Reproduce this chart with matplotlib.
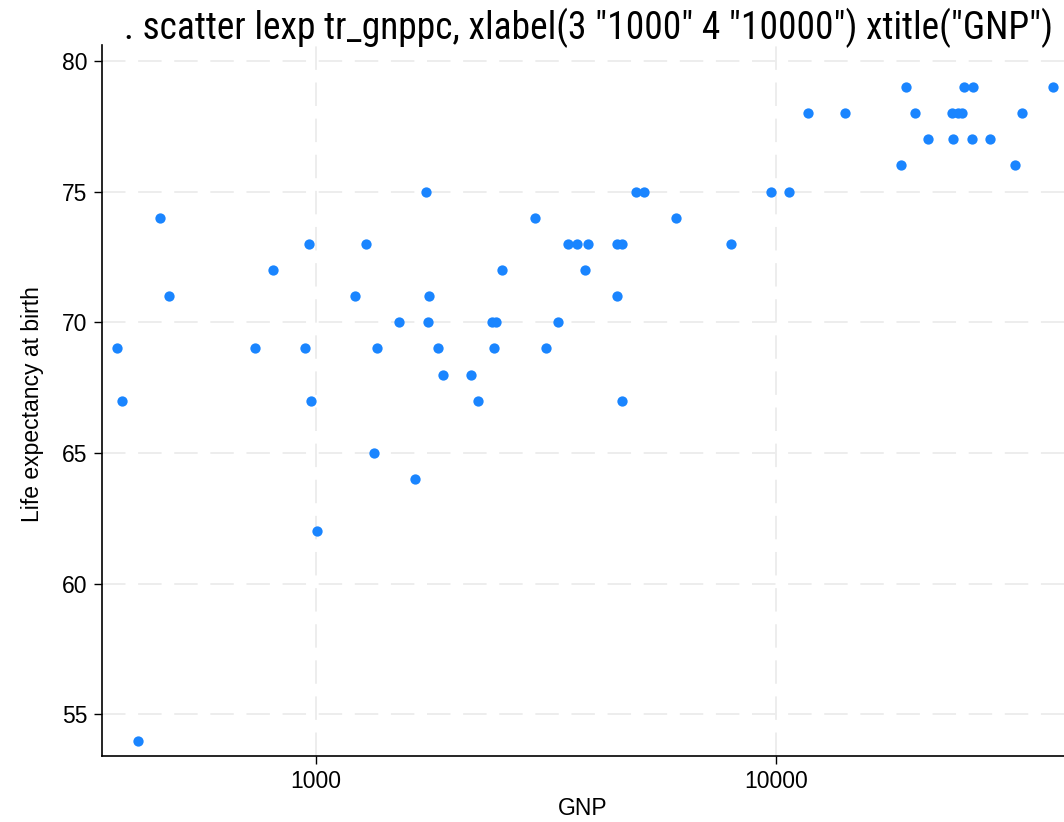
import matplotlib
matplotlib.use("Agg")
import matplotlib.pyplot as plt

# log10 of GNP per capita (tr_gnppc) and life expectancy
tr_gnppc = [2.567, 2.578, 2.612, 2.661, 2.680, 2.867, 2.907, 2.976, 2.985, 2.990,
            3.003, 3.085, 3.109, 3.125, 3.132, 3.181, 3.214, 3.239, 3.244, 3.246,
            3.266, 3.277, 3.337, 3.353, 3.382, 3.391, 3.386, 3.404, 3.475, 3.499,
            3.526, 3.547, 3.567, 3.591, 3.584, 3.654, 3.665, 3.654, 3.665, 3.696,
            3.712, 3.783, 3.902, 3.990, 4.028, 4.070, 4.149, 4.272, 4.283, 4.303,
            4.330, 4.383, 4.395, 4.405, 4.385, 4.408, 4.429, 4.425, 4.466, 4.519,
            4.535, 4.601]
lexp = [69, 67, 54, 74, 71, 69, 72, 69, 73, 67,
        62, 71, 73, 65, 69, 70, 64, 75, 70, 71,
        69, 68, 68, 67, 70, 70, 69, 72, 74, 69,
        70, 73, 73, 73, 72, 73, 73, 71, 67, 75,
        75, 74, 73, 75, 75, 78, 78, 76, 79, 78,
        77, 78, 78, 78, 77, 79, 79, 77, 77, 76,
        78, 79]

x_ticks = [3, 4]
x_ticklabels = ["1000", "10000"]
y_ticks = [55, 60, 65, 70, 75, 80]

plt.rcParams['font.family'] = ['Liberation Sans', 'DejaVu Sans']

fig = plt.figure(figsize=(10.64, 8.22), dpi=100)
ax = fig.add_axes([0.0956, 0.0806, 0.9044, 0.8647])

ax.scatter(tr_gnppc, lexp, s=55, color='#1a85ff', linewidths=0, zorder=3)

ax.set_xlim(2.534, 4.626)
ax.set_ylim(53.42, 80.61)
ax.set_xticks(x_ticks)
ax.set_xticklabels(x_ticklabels)
ax.set_yticks(y_ticks)

ax.grid(True, color='#ececec', linestyle=(0, (13, 7)), linewidth=1.3, zorder=0)
ax.tick_params(direction='out', length=5.5, width=1, pad=5, labelsize=16.5, colors='black')
for side in ['top', 'right']:
    ax.spines[side].set_visible(False)
for side in ['left', 'bottom']:
    ax.spines[side].set_linewidth(1.2)

ax.set_xlabel("GNP", fontsize=16.5, labelpad=3)
ax.set_ylabel("Life expectancy at birth", fontsize=16.5)
ax.yaxis.set_label_coords(-0.06, 0.495)

fig.text(589 / 1064, 1 - 28 / 822,
         '. scatter lexp tr_gnppc, xlabel(3 "1000" 4 "10000") xtitle("GNP")',
         ha='center', va='center', fontsize=27,
         family=['Roboto Condensed', 'Liberation Sans'])

fig.savefig('out.png', dpi=100)
